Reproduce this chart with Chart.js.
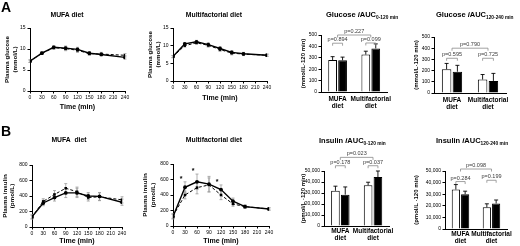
<!DOCTYPE html>
<html>
<head>
<script src="https://cdn.jsdelivr.net/npm/chart.js@4.4.0/dist/chart.umd.min.js"></script>
<style>
  html, body { margin: 0; padding: 0; background: #fff; overflow: hidden; }
  #stage { position: relative; width: 520px; height: 246px; font-family: 'Liberation Sans', Arial, sans-serif; }
  #stage canvas { position: absolute; }
  .lbl { position: absolute; font-weight: bold; color: #000; white-space: nowrap; line-height: 1; will-change: transform; }
  .panel { font-size: 14px; }
  .ttl { font-size: 6.8px; transform: translateX(-50%); }
  .auc { font-size: 7.5px; }
  .auc sub { font-size: 4.8px; vertical-align: -1.5px; }
</style>
</head>
<body>
<div id="stage">
  <div class="lbl panel" style="left:1px;top:0px;">A</div>
  <div class="lbl ttl" style="left:67px;top:11.5px;">MUFA diet</div>
  <div class="lbl ttl" style="left:214px;top:11.5px;">Multifactorial diet</div>
  <div class="lbl auc" style="left:326px;top:11px;">Glucose <i>i</i>AUC<sub>0-120 min</sub></div>
  <div class="lbl auc" style="left:436px;top:11px;">Glucose <i>i</i>AUC<sub>120-240 min</sub></div>

  <div class="lbl panel" style="left:1px;top:124px;">B</div>
  <div class="lbl ttl" style="left:69px;top:137px;">MUFA&nbsp; diet</div>
  <div class="lbl ttl" style="left:214px;top:136.5px;">Multifactorial diet</div>
  <div class="lbl auc" style="left:319px;top:137px;">Insulin <i>i</i>AUC<sub>0-120 min</sub></div>
  <div class="lbl auc" style="left:436px;top:137px;">Insulin <i>i</i>AUC<sub>120-240 min</sub></div>
</div>

<script>
  // ---- data ----
  const timePoints = [0, 30, 60, 90, 120, 150, 180, 240];

  const glucoseMufaSolid = [7.1, 9.0, 10.4, 10.2, 9.9, 9.0, 8.7, 8.0];
  const glucoseMufaSolidErr = [0.3, 0.3, 0.4, 0.5, 0.5, 0.4, 0.3, 0.4];
  const glucoseMufaDashed = [7.1, 9.0, 10.3, 10.1, 9.7, 8.9, 8.8, 8.5];
  const glucoseMufaDashedErr = [0.3, 0.3, 0.4, 0.5, 0.5, 0.4, 0.4, 0.4];

  const glucoseMultiSolid = [6.9, 10.5, 11.1, 10.3, 9.2, 8.1, 7.7, 7.3];
  const glucoseMultiSolidErr = [0.3, 0.4, 0.4, 0.5, 0.5, 0.5, 0.4, 0.3];
  const glucoseMultiDashed = [6.9, 10.0, 10.8, 10.1, 8.9, 7.9, 7.6, 7.3];
  const glucoseMultiDashedErr = [0.3, 0.4, 0.4, 0.5, 0.5, 0.5, 0.4, 0.3];

  const insulinMufaSolid = [130, 310, 380, 440, 440, 400, 395, 320];
  const insulinMufaSolidErr = [25, 35, 45, 60, 60, 45, 50, 40];
  const insulinMufaDashed = [130, 330, 420, 500, 455, 380, 390, 350];
  const insulinMufaDashedErr = [25, 35, 50, 60, 60, 45, 50, 40];

  const insulinMultiSolid = [120, 500, 570, 540, 470, 320, 250, 220];
  const insulinMultiSolidErr = [30, 70, 100, 100, 60, 40, 20, 15];
  const insulinMultiDashed = [130, 400, 495, 530, 400, 285, 250, 220];
  const insulinMultiDashedErr = [30, 50, 80, 90, 60, 30, 20, 15];
  const insulinMultiStars = [30, 60, 120];

  const dietLabels = [['MUFA', 'diet'], ['Multifactorial', 'diet']];

  const gAuc1White = [280, 328];
  const gAuc1WhiteErr = [30, 30];
  const gAuc1Black = [278, 382];
  const gAuc1BlackErr = [28, 40];
  const gAuc1P = ['p=0.894', 'p=0.099', 'p=0.227'];

  const gAuc2White = [212, 120];
  const gAuc2WhiteErr = [52, 45];
  const gAuc2Black = [190, 108];
  const gAuc2BlackErr = [57, 67];
  const gAuc2P = ['p=0.595', 'p=0.725', 'p=0.790'];

  const iAuc1White = [32000, 37000];
  const iAuc1WhiteErr = [4200, 2800];
  const iAuc1Black = [28500, 44500];
  const iAuc1BlackErr = [7000, 5500];
  const iAuc1P = ['p=0.178', 'p=0.037', 'p=0.023'];

  const iAuc2White = [34000, 18700];
  const iAuc2WhiteErr = [4300, 3000];
  const iAuc2Black = [30000, 22000];
  const iAuc2BlackErr = [2600, 3000];
  const iAuc2P = ['p=0.284', 'p=0.199', 'p=0.098'];

  // ---- helpers ----
  Chart.defaults.font.family = "'Liberation Sans', Arial, sans-serif";
  Chart.defaults.color = '#000';
  const stage = document.getElementById('stage');

  function makeCanvas(x, y, w, h) {
    const c = document.createElement('canvas');
    c.width = w; c.height = h;
    c.style.left = x + 'px'; c.style.top = y + 'px';
    c.style.width = w + 'px'; c.style.height = h + 'px';
    stage.appendChild(c);
    return c;
  }

  // gray symmetric error bars on the curves
  const lineErrors = {
    id: 'lineErrors',
    beforeDatasetsDraw(chart) {
      const ctx = chart.ctx, ys = chart.scales.y;
      ctx.save();
      ctx.strokeStyle = '#9a9a9a';
      ctx.lineWidth = 0.8;
      chart.data.datasets.forEach((ds, di) => {
        const meta = chart.getDatasetMeta(di);
        ds.errors.forEach((e, i) => {
          const pt = meta.data[i];
          const v = ds.data[i].y;
          const t = ys.getPixelForValue(v + e), b = ys.getPixelForValue(v - e);
          ctx.beginPath();
          ctx.moveTo(pt.x, t); ctx.lineTo(pt.x, b);
          ctx.moveTo(pt.x - 1.5, t); ctx.lineTo(pt.x + 1.5, t);
          ctx.moveTo(pt.x - 1.5, b); ctx.lineTo(pt.x + 1.5, b);
          ctx.stroke();
        });
      });
      ctx.restore();
    }
  };

  // significance asterisks above time points
  const stars = {
    id: 'stars',
    afterDatasetsDraw(chart, args, opts) {
      if (!opts.times) return;
      const ctx = chart.ctx, xs = chart.scales.x, ys = chart.scales.y;
      ctx.save();
      ctx.font = 'bold 7px "Liberation Sans", Arial, sans-serif';
      ctx.textAlign = 'center';
      ctx.textBaseline = 'middle';
      opts.times.forEach(t => {
        let top = Infinity;
        chart.data.datasets.forEach(ds => {
          const i = ds.data.findIndex(p => p.x === t);
          top = Math.min(top, ys.getPixelForValue(ds.data[i].y + ds.errors[i]));
        });
        ctx.fillText('*', xs.getPixelForValue(t) - 4, top - 3);
      });
      ctx.restore();
    }
  };

  // upward error bars on the bars
  const barErrors = {
    id: 'barErrors',
    afterDatasetsDraw(chart) {
      const ctx = chart.ctx, ys = chart.scales.y;
      ctx.save();
      ctx.strokeStyle = '#000';
      ctx.lineWidth = 0.9;
      chart.data.datasets.forEach((ds, di) => {
        const meta = chart.getDatasetMeta(di);
        ds.errors.forEach((e, i) => {
          const bar = meta.data[i];
          const t = ys.getPixelForValue(ds.data[i] + e);
          ctx.beginPath();
          ctx.moveTo(bar.x, bar.y); ctx.lineTo(bar.x, t);
          ctx.moveTo(bar.x - 2, t); ctx.lineTo(bar.x + 2, t);
          ctx.stroke();
        });
      });
      ctx.restore();
    }
  };

  // p-value brackets
  const pBrackets = {
    id: 'pBrackets',
    afterDatasetsDraw(chart, args, opts) {
      const ctx = chart.ctx, xs = chart.scales.x, ys = chart.scales.y;
      const m0 = chart.getDatasetMeta(0), m1 = chart.getDatasetMeta(1);
      ctx.save();
      ctx.strokeStyle = '#8a8a8a';
      ctx.lineWidth = 0.8;
      ctx.fillStyle = '#3a3a3a';
      ctx.font = '5.5px "Liberation Sans", Arial, sans-serif';
      ctx.textAlign = 'center';
      ctx.textBaseline = 'bottom';
      opts.items.forEach(it => {
        let x1, x2;
        if (it.cat !== undefined) { x1 = m0.data[it.cat].x; x2 = m1.data[it.cat].x; }
        else { x1 = xs.getPixelForValue(0); x2 = xs.getPixelForValue(1); }
        const y = ys.getPixelForValue(it.y);
        ctx.beginPath();
        ctx.moveTo(x1, y + 2.5); ctx.lineTo(x1, y); ctx.lineTo(x2, y); ctx.lineTo(x2, y + 2.5);
        ctx.stroke();
        ctx.fillText(it.text, (x1 + x2) / 2, y - 0.8);
      });
      ctx.restore();
    }
  };

  function toXY(vals) { return vals.map((v, i) => ({ x: timePoints[i], y: v })); }

  function lineChart(b, series, yOpts, starTimes) {
    const c = makeCanvas(b.x, b.y, b.w, b.h);
    return new Chart(c, {
      type: 'line',
      data: {
        datasets: [
          { data: toXY(series.solid), errors: series.solidErr, borderColor: '#000', borderWidth: 1.4,
            pointStyle: 'circle', pointRadius: 1.9, pointBackgroundColor: '#000', pointBorderWidth: 0 },
          { data: toXY(series.dashed), errors: series.dashedErr, borderColor: '#000', borderWidth: 1,
            borderDash: [3, 2], pointStyle: 'rect', pointRadius: 1.8, pointBackgroundColor: '#000', pointBorderWidth: 0 }
        ]
      },
      options: {
        responsive: false, animation: false, devicePixelRatio: 1,
        layout: { padding: { top: b.pt, right: b.pr, left: 0, bottom: 0 } },
        plugins: { legend: { display: false }, tooltip: { enabled: false }, stars: { times: starTimes } },
        scales: {
          x: {
            type: 'linear', min: 0, max: 240,
            ticks: { stepSize: 30, font: { size: 5 }, color: '#000', padding: 1.5, maxRotation: 0, autoSkip: false },
            grid: { drawOnChartArea: false, tickLength: 2.5, color: '#000' },
            border: { color: '#000', width: 1 },
            title: { display: true, text: 'Time (min)', font: { size: 7, weight: 'bold', lineHeight: 1.1 }, color: '#000', padding: { top: 0, bottom: 1.2 } },
            afterFit(s) { s.height = b.hX; }
          },
          y: {
            min: 0, max: yOpts.max,
            ticks: { stepSize: yOpts.step, font: { size: 5 }, color: '#000', padding: 2 },
            grid: { drawOnChartArea: false, tickLength: 2.5, color: '#000' },
            border: { color: '#000', width: 1 },
            title: { display: true, text: yOpts.title, font: { size: 6.2, weight: 'bold', lineHeight: 1.2 }, color: '#000', padding: { top: b.tp, bottom: 0 } },
            afterFit(s) { s.width = b.wY; }
          }
        }
      },
      plugins: [lineErrors, stars]
    });
  }

  function barChart(b, white, whiteErr, black, blackErr, yOpts, brackets) {
    const c = makeCanvas(b.x, b.y, b.w, b.h);
    return new Chart(c, {
      type: 'bar',
      data: {
        labels: dietLabels,
        datasets: [
          { data: white, errors: whiteErr, backgroundColor: '#fff', borderColor: '#000', borderWidth: 1,
            categoryPercentage: 0.6, barPercentage: 0.88 },
          { data: black, errors: blackErr, backgroundColor: '#000', borderColor: '#000', borderWidth: 1,
            categoryPercentage: 0.6, barPercentage: 0.88 }
        ]
      },
      options: {
        responsive: false, animation: false, devicePixelRatio: 1,
        layout: { padding: { top: b.pt, right: b.pr, left: 0, bottom: 0 } },
        plugins: { legend: { display: false }, tooltip: { enabled: false }, pBrackets: { items: brackets } },
        scales: {
          x: {
            ticks: { font: { size: 6.5, weight: 'bold', lineHeight: 1.2 }, color: '#000', padding: b.lp, maxRotation: 0, autoSkip: false },
            grid: { display: false, drawTicks: false },
            border: { color: '#000', width: 1 },
            afterFit(s) { s.height = b.hX; }
          },
          y: {
            min: 0, max: yOpts.max,
            ticks: { stepSize: yOpts.step, font: { size: 5 }, color: '#000', padding: 1.5,
                     callback: v => v.toLocaleString('en-US') },
            grid: { drawOnChartArea: false, tickLength: 2.5, color: '#000' },
            border: { color: '#000', width: 1 },
            title: { display: true, text: yOpts.title, font: { size: 6, weight: 'bold', lineHeight: 1.1 }, color: '#000', padding: { top: b.tp, bottom: 0 } },
            afterFit(s) { s.width = b.wY; }
          }
        }
      },
      plugins: [barErrors, pBrackets]
    });
  }

  // ---- panel A: glucose ----
  lineChart({ x: 0, y: 20, w: 135, h: 92, wY: 30, hX: 21, pt: 8, pr: 10, tp: 4 },
    { solid: glucoseMufaSolid, solidErr: glucoseMufaSolidErr, dashed: glucoseMufaDashed, dashedErr: glucoseMufaDashedErr },
    { max: 15, step: 5, title: ['Plasma glucose', '(mmol/L)'] });

  lineChart({ x: 143, y: 20, w: 134, h: 83, wY: 30, hX: 22, pt: 8, pr: 10, tp: 4 },
    { solid: glucoseMultiSolid, solidErr: glucoseMultiSolidErr, dashed: glucoseMultiDashed, dashedErr: glucoseMultiDashedErr },
    { max: 15, step: 5, title: ['Plasma glucose', '(mmol/L)'] });

  barChart({ x: 298, y: 22, w: 97, h: 94, wY: 23, hX: 24, pt: 13, pr: 4, tp: 1.8, lp: 3 },
    gAuc1White, gAuc1WhiteErr, gAuc1Black, gAuc1BlackErr,
    { max: 500, step: 100, title: '(mmol/L·120 min)' },
    [{ cat: 0, y: 428, text: gAuc1P[0] }, { cat: 1, y: 430, text: gAuc1P[1] }, { y: 500, text: gAuc1P[2] }]);

  barChart({ x: 410, y: 22, w: 110, h: 95, wY: 24, hX: 24, pt: 15, pr: 14, tp: 3.2, lp: 3 },
    gAuc2White, gAuc2WhiteErr, gAuc2Black, gAuc2BlackErr,
    { max: 500, step: 100, title: '(mmol/L·120 min)' },
    [{ cat: 0, y: 310, text: gAuc2P[0] }, { cat: 1, y: 310, text: gAuc2P[1] }, { y: 400, text: gAuc2P[2] }]);

  // ---- panel B: insulin ----
  lineChart({ x: 0, y: 150, w: 132, h: 96, wY: 32, hX: 19, pt: 15, pr: 10, tp: 1.3 },
    { solid: insulinMufaSolid, solidErr: insulinMufaSolidErr, dashed: insulinMufaDashed, dashedErr: insulinMufaDashedErr },
    { max: 800, step: 200, title: ['Plasma insulin', '(pmol/L)'] });

  lineChart({ x: 141, y: 150, w: 138, h: 96, wY: 32, hX: 20, pt: 14, pr: 10, tp: 1 },
    { solid: insulinMultiSolid, solidErr: insulinMultiSolidErr, dashed: insulinMultiDashed, dashedErr: insulinMultiDashedErr },
    { max: 800, step: 200, title: ['Plasma insulin', '(pmol/L)'] }, insulinMultiStars);

  barChart({ x: 298, y: 148, w: 97, h: 98, wY: 26, hX: 20, pt: 23, pr: 3, tp: 1.8, lp: 1 },
    iAuc1White, iAuc1WhiteErr, iAuc1Black, iAuc1BlackErr,
    { max: 50000, step: 10000, title: '(pmol/L ·120 min)' },
    [{ cat: 0, y: 54800, text: iAuc1P[0] }, { cat: 1, y: 54800, text: iAuc1P[1] }, { y: 62400, text: iAuc1P[2] }]);

  barChart({ x: 410, y: 148, w: 110, h: 98, wY: 35, hX: 17, pt: 23, pr: 13, tp: 3.2, lp: 1 },
    iAuc2White, iAuc2WhiteErr, iAuc2Black, iAuc2BlackErr,
    { max: 50000, step: 10000, title: '(pmol/L ·120 min)' },
    [{ cat: 0, y: 40900, text: iAuc2P[0] }, { cat: 1, y: 42000, text: iAuc2P[1] }, { y: 51700, text: iAuc2P[2] }]);
</script>
</body>
</html>
